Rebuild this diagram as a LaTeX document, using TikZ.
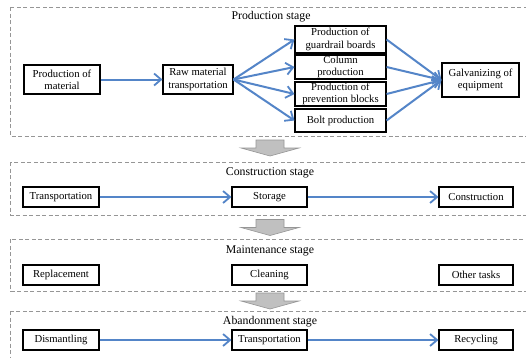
\documentclass[tikz,border=0pt]{standalone}
\usepackage{fontspec}
\setmainfont{Liberation Serif}
\usetikzlibrary{arrows.meta}
\definecolor{flowblue}{RGB}{84,133,200}
\definecolor{framegray}{RGB}{150,150,150}
\definecolor{blockfill}{RGB}{192,192,192}
\definecolor{blockline}{RGB}{150,150,150}
\begin{document}
\begin{tikzpicture}[x=1pt,y=-1pt,
  box/.style={draw=black,line width=1.1pt,fill=white,inner sep=0pt,align=center,
    font=\fontsize{10.7}{12.3}\selectfont},
  stagetitle/.style={inner sep=0pt,font=\fontsize{11.8}{14}\selectfont},
  frame/.style={draw=framegray,dashed,dash pattern=on 4pt off 2.5pt,line width=0.7pt},
  flow/.style={draw=flowblue,line width=2pt,-{Straight Barb[length=7pt,width=12pt,line width=1.8pt]}},
  block/.style={fill=blockfill,draw=blockline,line width=0.6pt}
]
\useasboundingbox (0,0) rectangle (526,357);
\fill[white] (0,0) rectangle (526,357);

% frames
\draw[frame] (10.5,7) rectangle (530,136);
\draw[frame] (10.5,162) rectangle (530,215);
\draw[frame] (10.5,239) rectangle (530,291);
\draw[frame] (10.5,311) rectangle (530,365);

% titles
\node[stagetitle] (t1) at (271,17) {Production stage};
\node[stagetitle] (t2) at (270,173) {Construction stage};
\node[stagetitle] (t3) at (270,251) {Maintenance stage};
\node[stagetitle] (t4) at (270,322) {Abandonment stage};

% production stage
\node[box,minimum width=76pt,minimum height=29pt] (pm) at (62,79.5) {Production of\\material};
\node[box,minimum width=70pt,minimum height=29pt] (rm) at (198,79.5) {Raw material\\transportation};
\node[box,minimum width=91pt,minimum height=27pt] (g1) at (340.5,39.5) {Production of\\guardrail boards};
\node[box,minimum width=91pt,minimum height=24pt] (g2) at (340.5,67) {Column\\production};
\node[box,minimum width=91pt,minimum height=24pt] (g3) at (340.5,94) {Production of\\prevention blocks};
\node[box,minimum width=91pt,minimum height=23pt] (g4) at (340.5,120.5) {Bolt production};
\node[box,minimum width=77pt,minimum height=34pt] (gal) at (480.5,80) {Galvanizing of\\equipment};

\draw[flow] (pm) -- (rm);
\foreach \n in {g1,g2,g3,g4}{
  \draw[flow] (rm.east) -- (\n.west);
  \draw[flow] (\n.east) -- (gal.west);
}

% construction stage
\node[box,minimum width=76pt,minimum height=20pt] (c1) at (61,197) {Transportation};
\node[box,minimum width=75pt,minimum height=20pt] (c2) at (269.5,197) {Storage};
\node[box,minimum width=74pt,minimum height=20pt] (c3) at (476,197) {Construction};
\draw[flow] (c1) -- (c2);
\draw[flow] (c2) -- (c3);

% maintenance stage
\node[box,minimum width=76pt,minimum height=20pt] (m1) at (61,275) {Replacement};
\node[box,minimum width=75pt,minimum height=20pt] (m2) at (269.5,275) {Cleaning};
\node[box,minimum width=74pt,minimum height=20pt] (m3) at (476,275) {Other tasks};

% abandonment stage
\node[box,minimum width=76pt,minimum height=20pt] (a1) at (61,340) {Dismantling};
\node[box,minimum width=75pt,minimum height=20pt] (a2) at (269.5,340) {Transportation};
\node[box,minimum width=74pt,minimum height=20pt] (a3) at (476,340) {Recycling};
\draw[flow] (a1) -- (a2);
\draw[flow] (a2) -- (a3);

% block arrows between stages
\foreach \t in {140,219.5,293}{
  \draw[block] (256,\t) -- (284,\t) -- (284,\t+8) -- (299,\t+8) -- (270,\t+16)
    -- (241,\t+8) -- (256,\t+8) -- cycle;
}
\end{tikzpicture}
\end{document}
